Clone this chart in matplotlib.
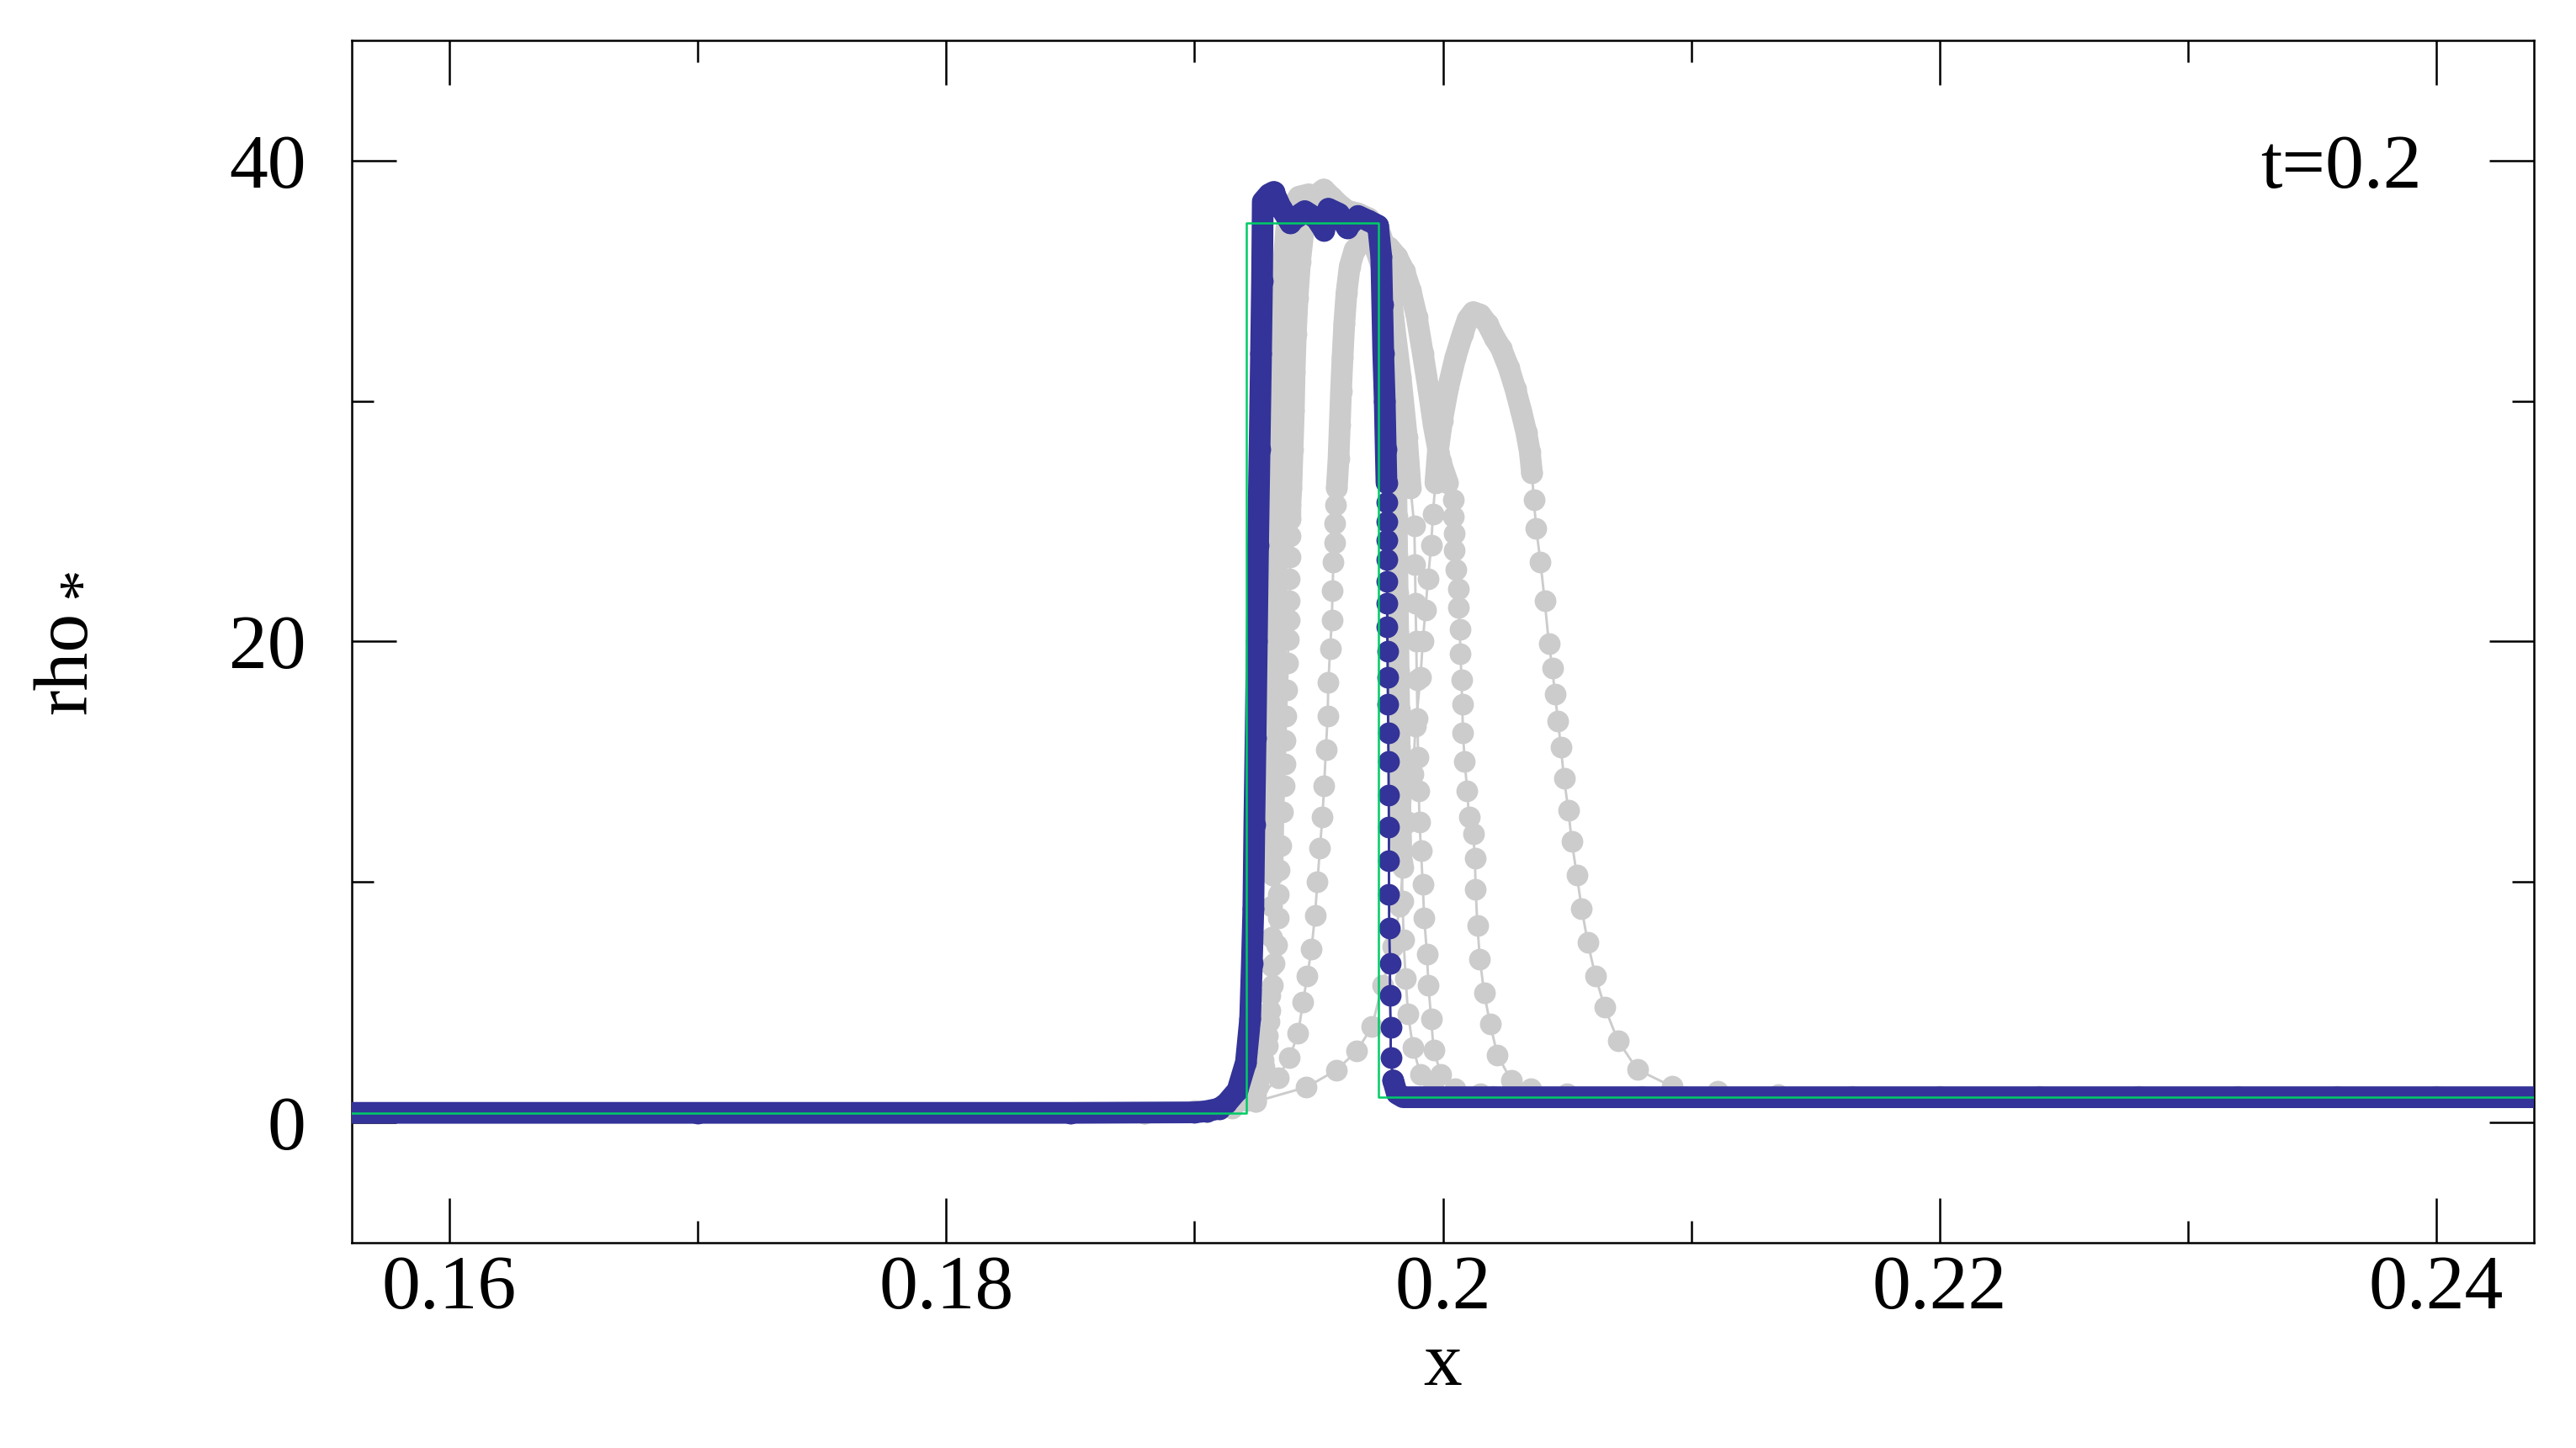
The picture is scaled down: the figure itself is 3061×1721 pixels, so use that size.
import numpy as np
import matplotlib.pyplot as plt
from matplotlib.ticker import MultipleLocator, FuncFormatter

plt.rcParams['font.family'] = ['Liberation Serif', 'DejaVu Serif']

# exact solution (step profile)
exact_x = [0.1555, 0.19210, 0.19210, 0.19740, 0.19740, 0.2445]
exact_rho = [0.40, 0.40, 37.4, 37.4, 1.05, 1.05]

# highest resolution run, dense part (left state, left edge, shell top, upper right edge)
blue_x = [0.1555, 0.1700, 0.1850, 0.1900, 0.1905, 0.1910, 0.19129, 0.19173, 0.19207,
          0.19224, 0.19231, 0.19237, 0.19241, 0.19246, 0.19251, 0.19256, 0.19262,
          0.19268, 0.19272, 0.19275, 0.19300, 0.19319, 0.19350, 0.19386, 0.19415,
          0.19444, 0.19490, 0.19522, 0.19539, 0.19580, 0.19614, 0.19658, 0.19700,
          0.19739, 0.19752, 0.19756, 0.19760, 0.19766, 0.19770, 0.19773]
blue_rho = [0.40, 0.40, 0.40, 0.42, 0.47, 0.58, 0.80, 1.33, 2.5,
            4.3, 6.6, 8.9, 12.4, 16.0, 20.0, 24.0, 28.0,
            32.0, 35.0, 38.3, 38.6, 38.7, 38.0, 37.4, 37.7,
            37.9, 37.6, 37.1, 38.0, 37.8, 37.2, 37.7, 37.5,
            37.3, 36.0, 34.0, 32.0, 30.0, 28.0, 26.6]
# sparse particles on the outer edge of the shell
edge_x = [0.19773, 0.19773, 0.19774, 0.19774, 0.19775, 0.19776, 0.19776, 0.19777,
          0.19778, 0.19779, 0.19780, 0.19781, 0.19782, 0.19783, 0.19783, 0.19783,
          0.19784, 0.19787, 0.19787, 0.19790, 0.19790, 0.19800]
edge_rho = [25.8, 25.0, 24.2, 23.4, 22.5, 21.6, 20.6, 19.6,
            18.5, 17.4, 16.2, 15.0, 13.6, 12.3, 10.9, 9.5,
            8.1, 6.6, 5.3, 3.95, 2.7, 1.75]
# right state
right_x = [0.19800, 0.19815, 0.19840, 0.2000, 0.2200, 0.2445]
right_rho = [1.75, 1.20, 1.05, 1.05, 1.05, 1.05]

# lower resolution runs (x, rho)
grey_a = np.array([
    (0.1555, 0.4), (0.1880, 0.4), (0.1905, 0.45), (0.1915, 0.6), (0.1921, 0.9),
    (0.19255, 1.5), (0.1928, 2.3), (0.19295, 3.2), (0.1930, 4.2), (0.19305, 5.3),
    (0.1931, 6.5), (0.1931, 7.7), (0.19312, 9.0), (0.19314, 10.3), (0.19316, 11.6),
    (0.19318, 13.0), (0.1932, 14.4), (0.19322, 15.8), (0.19324, 17.2), (0.19326, 18.6),
    (0.19328, 20.0), (0.1933, 21.4), (0.19332, 22.8), (0.19334, 24.2), (0.19336, 25.6),
    (0.19338, 27.0), (0.1934, 28.5), (0.19342, 30.0), (0.19345, 31.5), (0.19348, 33.0),
    (0.19352, 34.5), (0.1936, 36.0), (0.1937, 37.2), (0.1939, 38.0), (0.1942, 38.5),
    (0.1946, 38.6), (0.1950, 38.4), (0.1954, 38.2), (0.1958, 38.0), (0.1962, 37.9),
    (0.1966, 37.8), (0.1970, 37.6), (0.1974, 37.2), (0.1977, 36.3), (0.1979, 34.8),
    (0.19802, 33.2), (0.19806, 31.6), (0.19808, 30.0), (0.1981, 28.4), (0.19812, 26.8),
    (0.19814, 25.2), (0.19816, 23.6), (0.19818, 22.0), (0.1982, 20.4), (0.19822, 18.8),
    (0.19824, 17.2), (0.19826, 15.6), (0.19828, 14.0), (0.1983, 12.4), (0.19834, 10.8),
    (0.19838, 9.2), (0.19842, 7.6), (0.1985, 6.0), (0.1986, 4.5), (0.1988, 3.1),
    (0.1991, 2.0), (0.1996, 1.4), (0.2004, 1.15), (0.2020, 1.08), (0.2445, 1.05)])

grey_b = np.array([
    (0.1555, 0.4), (0.1880, 0.4), (0.1905, 0.5), (0.19247, 1.15), (0.19258, 1.9),
    (0.19275, 2.6), (0.19292, 3.6), (0.19302, 4.65), (0.19315, 5.7), (0.19319, 6.6),
    (0.19332, 7.4), (0.19336, 8.5), (0.19336, 9.5), (0.19342, 10.5), (0.19349, 11.5),
    (0.19356, 12.9), (0.19360, 14.0), (0.19363, 14.9), (0.19366, 15.9), (0.19369, 16.9),
    (0.19372, 18.0), (0.19376, 19.1), (0.19378, 20.1), (0.19380, 20.9), (0.19383, 21.7),
    (0.19383, 22.6), (0.19386, 23.5), (0.19386, 24.4), (0.19386, 25.1), (0.19386, 25.7),
    (0.19390, 26.4), (0.19395, 28.0), (0.19400, 29.6), (0.19403, 31.2), (0.19408, 32.8),
    (0.19415, 34.3), (0.19425, 35.8), (0.19440, 37.2), (0.19465, 38.2), (0.19495, 38.6),
    (0.19520, 38.8), (0.19550, 38.5), (0.19590, 38.1), (0.19630, 37.8), (0.19680, 37.3),
    (0.19720, 36.6), (0.19760, 35.4), (0.19800, 33.5), (0.19830, 31.0), (0.19855, 28.5),
    (0.19870, 26.4), (0.19885, 24.8), (0.19888, 23.2), (0.19890, 21.6), (0.19893, 20.0),
    (0.19895, 18.4), (0.19898, 16.8), (0.19900, 15.2), (0.19903, 13.8), (0.19906, 12.5),
    (0.19912, 11.3), (0.19919, 9.9), (0.19925, 8.5), (0.19936, 7.0), (0.19942, 5.7),
    (0.19953, 4.3), (0.19963, 3.0), (0.19993, 2.0), (0.2005, 1.4), (0.2015, 1.2),
    (0.2035, 1.1), (0.2445, 1.05)])

grey_c = np.array([
    (0.1555, 0.4), (0.1880, 0.4), (0.1905, 0.5), (0.19247, 0.87), (0.19336, 1.85),
    (0.19383, 2.7), (0.19417, 3.7), (0.19437, 5.0), (0.19454, 6.1), (0.19471, 7.2),
    (0.19485, 8.6), (0.19495, 10.0), (0.19505, 11.4), (0.19515, 12.7), (0.19522, 14.0),
    (0.19529, 15.5), (0.19536, 16.9), (0.19539, 18.3), (0.19546, 19.7), (0.19553, 20.9),
    (0.19556, 22.1), (0.19559, 23.3), (0.19563, 24.1), (0.19566, 24.9), (0.19569, 25.7),
    (0.19573, 26.4), (0.19580, 27.6), (0.19585, 29.0), (0.19590, 30.4), (0.19596, 31.8),
    (0.19603, 33.2), (0.19612, 34.5), (0.19625, 35.6), (0.19645, 36.3), (0.19675, 36.6),
    (0.19710, 36.6), (0.19745, 36.5), (0.19783, 36.4), (0.19815, 36.0), (0.19845, 35.4),
    (0.19870, 34.6), (0.19895, 33.5), (0.19919, 32.0), (0.19942, 30.5), (0.19963, 29.0),
    (0.19990, 27.5), (0.20020, 26.6), (0.20044, 25.9), (0.20044, 25.2), (0.20047, 24.5),
    (0.20047, 23.8), (0.20054, 23.0), (0.20061, 22.2), (0.20064, 21.4), (0.20068, 20.5),
    (0.20071, 19.5), (0.20075, 18.4), (0.20078, 17.4), (0.20081, 16.2), (0.20088, 15.0),
    (0.20098, 13.8), (0.20105, 12.7), (0.20122, 12.0), (0.20129, 11.0), (0.20132, 9.7),
    (0.20139, 8.2), (0.20149, 6.8), (0.20166, 5.4), (0.20190, 4.1), (0.20220, 2.8),
    (0.20275, 1.75), (0.20353, 1.4), (0.2050, 1.2), (0.2080, 1.1), (0.2445, 1.05)])

grey_d = np.array([
    (0.1555, 0.4), (0.1850, 0.4), (0.1900, 0.5), (0.19247, 0.87), (0.19451, 1.47),
    (0.19570, 2.17), (0.19654, 2.97), (0.19715, 4.0), (0.19756, 5.7), (0.19800, 7.3),
    (0.19827, 9.0), (0.19840, 10.6), (0.19860, 12.5), (0.19880, 14.5), (0.19890, 16.5),
    (0.19910, 18.5), (0.19919, 20.0), (0.19930, 21.3), (0.19940, 22.6), (0.19953, 24.0),
    (0.19960, 25.3), (0.19970, 26.6), (0.19980, 27.9), (0.19997, 29.2), (0.20020, 30.5),
    (0.20050, 31.8), (0.20080, 32.8), (0.20100, 33.4), (0.20122, 33.7), (0.20150, 33.6),
    (0.20180, 33.2), (0.20210, 32.6), (0.20234, 32.2), (0.20265, 31.4), (0.20292, 30.5),
    (0.20315, 29.6), (0.20336, 28.7), (0.20350, 27.9), (0.20359, 27.0), (0.20366, 25.9),
    (0.20376, 24.7), (0.20393, 23.3), (0.20410, 21.7), (0.20427, 19.9), (0.20441, 18.9),
    (0.20451, 17.8), (0.20464, 16.7), (0.20475, 15.6), (0.20488, 14.3), (0.20505, 13.0),
    (0.20519, 11.7), (0.20539, 10.3), (0.20559, 8.9), (0.20583, 7.5), (0.20614, 6.1),
    (0.20651, 4.8), (0.20705, 3.4), (0.20783, 2.2), (0.20922, 1.5), (0.21105, 1.3),
    (0.2135, 1.15), (0.2165, 1.1), (0.2200, 1.1), (0.2240, 1.1), (0.2280, 1.1),
    (0.2320, 1.1), (0.2360, 1.1), (0.2400, 1.1), (0.2445, 1.1)])

# density above which the particles of each run overlap into a solid band
grey_runs = [(grey_d, 26.0), (grey_c, 26.0), (grey_b, 25.0), (grey_a, 10.0)]

x_ticks = [0.16, 0.18, 0.2, 0.22, 0.24]
y_ticks = [0, 20, 40]

GREY = '#cccccc'
BLUE = '#333399'
GREEN = '#00cc66'
FS = 22
MS = 6.2

fig = plt.figure(figsize=(3061 / 300, 1721 / 300), dpi=300)
ax = fig.add_axes([0.13656, 0.14178, 0.84711, 0.83033])

for g, dense in grey_runs:
    ax.plot(g[:, 0], g[:, 1], '-o', color=GREY, lw=0.7, ms=MS, mec='none', zorder=2)
    ax.plot(g[:, 0], np.ma.masked_less(g[:, 1], dense), '-', color=GREY, lw=MS,
            solid_capstyle='round', solid_joinstyle='round', zorder=2)

# dense particles overlap into a solid band
ax.plot(blue_x, blue_rho, '-', color=BLUE, lw=MS, solid_capstyle='round',
        solid_joinstyle='round', zorder=3)
ax.plot(blue_x, blue_rho, 'o', color=BLUE, ms=MS, mec='none', zorder=3)
ax.plot(edge_x, edge_rho, '-o', color=BLUE, lw=0.7, ms=MS, mec='none', zorder=3)
ax.plot(right_x, right_rho, '-', color=BLUE, lw=MS, solid_capstyle='round',
        solid_joinstyle='round', zorder=3)

ax.plot(exact_x, exact_rho, '-', color=GREEN, lw=0.6, zorder=4)

ax.set_xlim(0.15607, 0.24393)
ax.set_ylim(-5, 45)
ax.set_xticks(x_ticks)
ax.set_yticks(y_ticks)
ax.xaxis.set_minor_locator(MultipleLocator(0.01))
ax.yaxis.set_minor_locator(MultipleLocator(10))
ax.xaxis.set_major_formatter(FuncFormatter(lambda v, p: '%g' % round(v, 4)))
ax.yaxis.set_major_formatter(FuncFormatter(lambda v, p: '%g' % v))
ax.tick_params(which='both', direction='in', top=True, right=True, width=0.6,
               labelsize=FS)
ax.tick_params(which='major', length=12.7)
ax.tick_params(which='minor', length=6.2)
ax.tick_params(axis='y', pad=13)
ax.tick_params(axis='x', pad=3.4)
for s in ax.spines.values():
    s.set_linewidth(0.6)

ax.set_xlabel('x', fontsize=FS)
ax.xaxis.set_label_coords(0.5, -0.074)
ax.set_ylabel('rho', fontsize=FS)
ax.yaxis.set_label_coords(-0.1146, 0.482)
fig.text(101 / 3061, 1 - 692 / 1721, '*', fontsize=18, ha='center', va='center',
         rotation=90)

ax.text(0.9487, 0.8775, 't=0.2', transform=ax.transAxes, ha='right',
        va='baseline', fontsize=FS)

fig.savefig('out.png', dpi=300)
